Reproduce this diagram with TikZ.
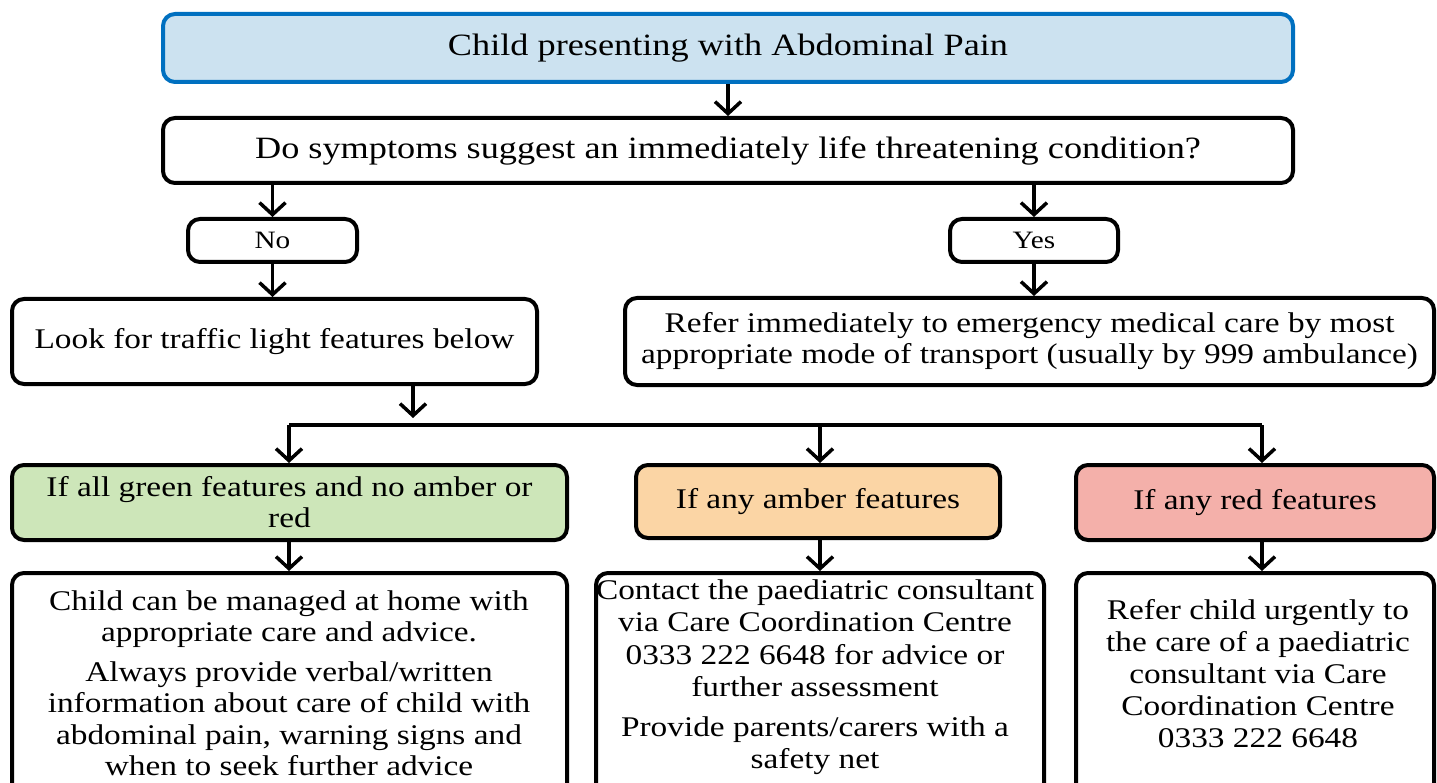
\documentclass[tikz,border=0pt]{standalone}
\usepackage{fontspec}
\setmainfont[FakeStretch=1.17]{Liberation Serif}
\usetikzlibrary{arrows.meta}
\definecolor{tblue}{HTML}{CCE2F0}
\definecolor{tblueb}{HTML}{0070C0}
\definecolor{tgreen}{HTML}{CDE6B9}
\definecolor{tamber}{HTML}{FBD5A5}
\definecolor{tred}{HTML}{F4B0AA}
\begin{document}
\begin{tikzpicture}[x=1pt,y=-1pt,
  box/.style={draw=black, line width=4pt, rounded corners=12pt, fill=white, inner sep=0pt, align=center, font=\fontsize{28.5}{31}\selectfont},
  small/.style={font=\fontsize{25}{27}\selectfont},
  txt/.style={inner sep=0pt, align=center, font=\fontsize{28.5}{31.5}\selectfont},
  arr/.style={line width=3.5pt, -{Straight Barb[length=12pt, width=26pt]}},
  ln/.style={line width=3.5pt}]
\useasboundingbox (0,0) rectangle (1437,783);
\clip (0,0) rectangle (1437,783);
% boxes
\node[box, draw=tblueb, fill=tblue, minimum width=1130pt, minimum height=68pt, font=\fontsize{31}{34}\selectfont] (title) at (728,48) {Child presenting with Abdominal Pain};
\node[box, minimum width=1130pt, minimum height=65pt, font=\fontsize{31}{34}\selectfont] (q) at (728,150.5) {Do symptoms suggest an immediately life threatening condition?};
\node[box, small, minimum width=169pt, minimum height=43pt] (no) at (272.5,240.5) {No};
\node[box, small, minimum width=168pt, minimum height=43pt] (yes) at (1034,240.5) {Yes};
\node[box, minimum width=525pt, minimum height=85pt] (look) at (274.5,341.5) {Look for traffic light features below};
\node[box, minimum width=809pt, minimum height=87pt] (refer) at (1029.5,341.5) {Refer immediately to emergency medical care by most\\appropriate mode of transport (usually by 999 ambulance)};
\node[box, fill=tgreen, minimum width=555pt, minimum height=75pt] (green) at (289.5,502.5) {If all green features and no amber or\\red};
\node[box, fill=tamber, minimum width=364pt, minimum height=73pt] (amber) at (818,501.5) {If any amber features};
\node[box, fill=tred, minimum width=358pt, minimum height=75pt] (red) at (1255,502.5) {If any red features};
\node[box, minimum width=555pt, minimum height=240pt] (bl) at (289.5,693) {};
\node[box, minimum width=448pt, minimum height=240pt] (bm) at (820,693) {};
\node[box, minimum width=358pt, minimum height=240pt] (br) at (1255,693) {};
\node[txt] (blt) at (289,683) {Child can be managed at home with\\appropriate care and advice.\\[8pt]Always provide verbal/written\\information about care of child with\\abdominal pain, warning signs and\\when to seek further advice};
\node[txt, font=\fontsize{28.5}{32.5}\selectfont] (bmt) at (815,677) {Contact the paediatric consultant\\via Care Coordination Centre\\0333 222 6648 for advice or\\further assessment\\[7pt]Provide parents/carers with a\\safety net};
\node[txt, font=\fontsize{28.5}{32}\selectfont] (brt) at (1258,674) {Refer child urgently to\\the care of a paediatric\\consultant via Care\\Coordination Centre\\0333 222 6648};
% junction
\coordinate (jt) at (413,418);
\coordinate (jl) at (289,425);
\coordinate (jm) at (820,425);
\coordinate (jr) at (1262,425);
% connectors
\draw[arr] (title.south) -- (q.north);
\draw[arr] (q.south -| no) -- (no.north);
\draw[arr] (q.south -| yes) -- (yes.north);
\draw[arr] (no.south) -- (no.south |- look.north);
\draw[arr] (yes.south) -- (yes.south |- refer.north);
\draw[arr] (look.south -| jt) -- (jt);
\draw[ln] (jl) -- (jr);
\draw[arr] (jl) -- (jl |- green.north);
\draw[arr] (jm) -- (jm |- amber.north);
\draw[arr] (jr) -- (jr |- red.north);
\draw[arr] (green.south -| jl) -- (jl |- bl.north);
\draw[arr] (amber.south -| jm) -- (jm |- bm.north);
\draw[arr] (red.south -| jr) -- (jr |- br.north);
\end{tikzpicture}
\end{document}
